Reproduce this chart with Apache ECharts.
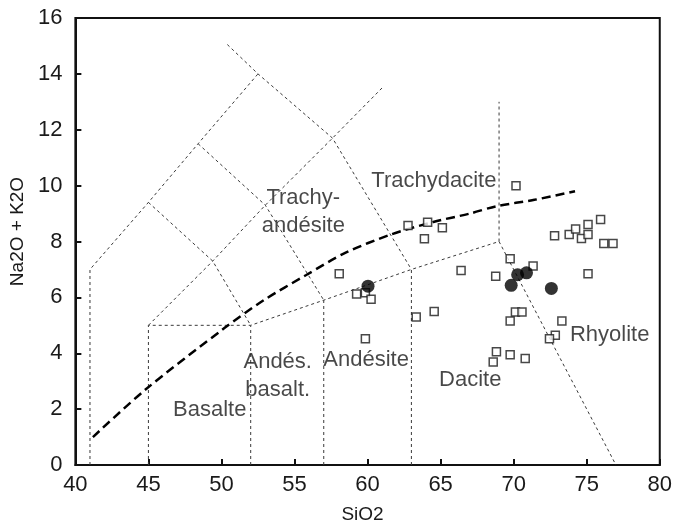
<!DOCTYPE html>
<html><head><meta charset="utf-8">
<script src="https://cdn.jsdelivr.net/npm/echarts@6/dist/echarts.min.js"></script>
<style>html,body{margin:0;padding:0;background:#fff}#c{width:675px;height:529px}</style>
</head><body><div id="c"></div>
<script>
// Sample compositions: open squares
const squareSiO2 = [58.06,59.25,59.85,60.24,59.85,62.77,64.11,65.12,63.89,66.4,63.33,64.56,
  70.16,72.8,73.8,74.24,74.64,75.09,75.09,75.95,76.17,76.8,75.09,69.76,71.33,68.77,
  70.12,70.57,69.76,73.3,72.85,72.45,68.82,68.6,69.76,70.79];
const squareAlk = [6.85,6.12,6.17,5.93,4.52,8.57,8.69,8.49,8.10,6.96,5.30,5.49,
  10.0,8.21,8.25,8.45,8.11,8.61,8.25,8.79,7.93,7.93,6.85,7.38,7.12,6.76,
  5.48,5.48,5.15,5.15,4.64,4.52,4.05,3.69,3.95,3.81];
// Sample compositions: filled circles
const circleSiO2 = [60.03,70.27,70.88,69.83,72.58];
const circleAlk = [6.40,6.81,6.88,6.43,6.32];
// Alkaline / subalkaline dividing curve
const alkalineCurve = [[41.2,1.0],[44.8,2.7],[50.2,4.9],[52.9,5.9],[55.8,6.8],[58.5,7.6],
  [61.6,8.25],[64.5,8.7],[67.0,9.0],[68.8,9.26],[71.5,9.5],[74.2,9.8]];
// TAS field boundaries
const boundaries = [
  [[41,0],[41,7],[45,9.4],[48.4,11.5],[52.5,14]],
  [[45,0],[45,5],[52,5],[57,5.9],[63,7],[69,8],[77,0]],
  [[52,0],[52,5]],
  [[57,0],[57,5.9]],
  [[63,0],[63,7]],
  [[69,8],[69,13]],
  [[45,9.4],[49.4,7.3],[52,5]],
  [[48.4,11.5],[53,9.3],[57,5.9]],
  [[50.4,15.05],[52.5,14],[57.6,11.7],[63,7]],
  [[45,5],[49.4,7.3],[53,9.3],[57.6,11.7],[61,13.5]]
];
// Field names
const regionNames = ['Trachydacite','Trachy-\nandésite','Andés.\nbasalt.','Andésite','Dacite','Rhyolite','Basalte'];
const regionSiO2 = [64.54,55.6,53.85,59.9,67.03,76.57,49.2];
const regionAlk = [10.18,9.07,3.2,3.75,3.05,4.64,1.96];

const FONT = 'Liberation Sans, Arial, sans-serif';
const TXT = '#1a1a1a';
const chart = echarts.init(document.getElementById('c'), null, {renderer:'canvas'});
const series = [];
boundaries.forEach(b => series.push({
  type:'line', data:b, symbol:'none', silent:true, z:2,
  lineStyle:{color:'#3a3a3a', width:1, type:[3,3]}
}));
series.push({
  type:'line', data:alkalineCurve, symbol:'none', smooth:0.3, silent:true, z:3,
  lineStyle:{color:'#000', width:2.5, type:[9,5]}
});
series.push({
  type:'scatter', data:squareSiO2.map((x,i)=>[x,squareAlk[i]]), symbol:'rect', symbolSize:8, z:4,
  itemStyle:{color:'#fff', borderColor:'#1a1a1a', borderWidth:1.5}
});
series.push({
  type:'scatter', data:circleSiO2.map((x,i)=>[x,circleAlk[i]]), symbol:'circle', symbolSize:13, z:5,
  itemStyle:{color:'#000'}
});
series.push({
  type:'scatter', data:regionNames.map((n,i)=>[regionSiO2[i],regionAlk[i],n]), symbolSize:0, z:6, silent:true,
  label:{show:true, position:'inside', formatter:p=>p.value[2], color:TXT, fontFamily:FONT, fontSize:22, lineHeight:28, align:'center'}
});
chart.setOption({
  animation:false,
  backgroundColor:'#fff',
  grid:{left:68, right:12, top:18, bottom:63, show:true, borderColor:'#111', borderWidth:2},
  xAxis:{type:'value', min:40, max:80, interval:5, name:'SiO2', nameLocation:'middle', nameGap:40,
    nameTextStyle:{fontFamily:FONT, fontSize:19, color:TXT, padding:[0,10,0,0]},
    axisLine:{lineStyle:{color:'#111', width:2}},
    axisTick:{inside:true, length:6, lineStyle:{color:'#111', width:2}},
    axisLabel:{fontFamily:FONT, fontSize:22, color:TXT, margin:9},
    splitLine:{show:false}},
  yAxis:{type:'value', min:0, max:16, interval:2, name:'Na2O + K2O', nameLocation:'middle', nameGap:47,
    nameTextStyle:{fontFamily:FONT, fontSize:19, color:TXT, padding:[0,0,0,20]},
    axisLine:{lineStyle:{color:'#111', width:2}},
    axisTick:{inside:true, length:6, lineStyle:{color:'#111', width:2}},
    axisLabel:{fontFamily:FONT, fontSize:22, color:TXT, margin:13, padding:[0,0,8,0]},
    splitLine:{show:false}},
  series
});
</script></body></html>
